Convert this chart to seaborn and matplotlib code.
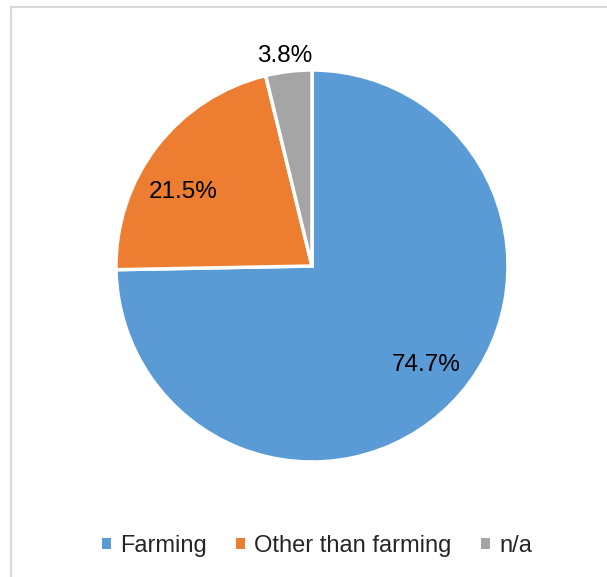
import matplotlib
matplotlib.use("Agg")
import matplotlib.pyplot as plt
from matplotlib.patches import Patch, Rectangle
import seaborn as sns

sns.set_theme(style="white")
plt.rcParams["font.family"] = ["Liberation Sans", "DejaVu Sans"]

categories = ["Farming", "Other than farming", "n/a"]
shares = [74.7, 21.5, 3.8]
colors = ["#5B9BD5", "#ED7D31", "#A5A5A5"]
# where each percentage label sits (x, baseline y) in pie-radius units
label_xy = [(0.582, -0.536), (-0.656, 0.347), (-0.138, 1.041)]

W, H = 607, 577
fig = plt.figure(figsize=(W / 100, H / 100), dpi=100)
fig.patch.set_facecolor("white")

# light frame around the chart area
fig.add_artist(Rectangle((10.5 / W, -0.05), 1.2, 1 - 6.5 / H + 0.05,
                         transform=fig.transFigure, fill=False,
                         edgecolor="#D9D9D9", linewidth=1.5))

cx, cy, r = 312, 266, 196
ax = fig.add_axes([(cx - r) / W, (H - cy - r) / H, 2 * r / W, 2 * r / H])
wedges, texts, autotexts = ax.pie(
    shares, colors=colors, startangle=90, counterclock=False,
    autopct=lambda p: f"{p:.1f}%",
    wedgeprops=dict(edgecolor="white", linewidth=2.5),
    textprops=dict(fontsize=17.5, color="black"),
)
for t, (x, y) in zip(autotexts, label_xy):
    t.set_position((x, y))
    t.set_verticalalignment("baseline")
ax.set_xlim(-1, 1)
ax.set_ylim(-1, 1)
ax.set_aspect("equal")
ax.axis("off")

handles = [Patch(facecolor=c, edgecolor="none") for c in colors]
fig.legend(handles, categories, loc="center", ncol=3,
           bbox_to_anchor=(317 / W, 1 - 546 / H), frameon=False, fontsize=17,
           handlelength=0.36, handleheight=0.36, handletextpad=0.4,
           columnspacing=1.25)

fig.savefig("out.png", dpi=100)
